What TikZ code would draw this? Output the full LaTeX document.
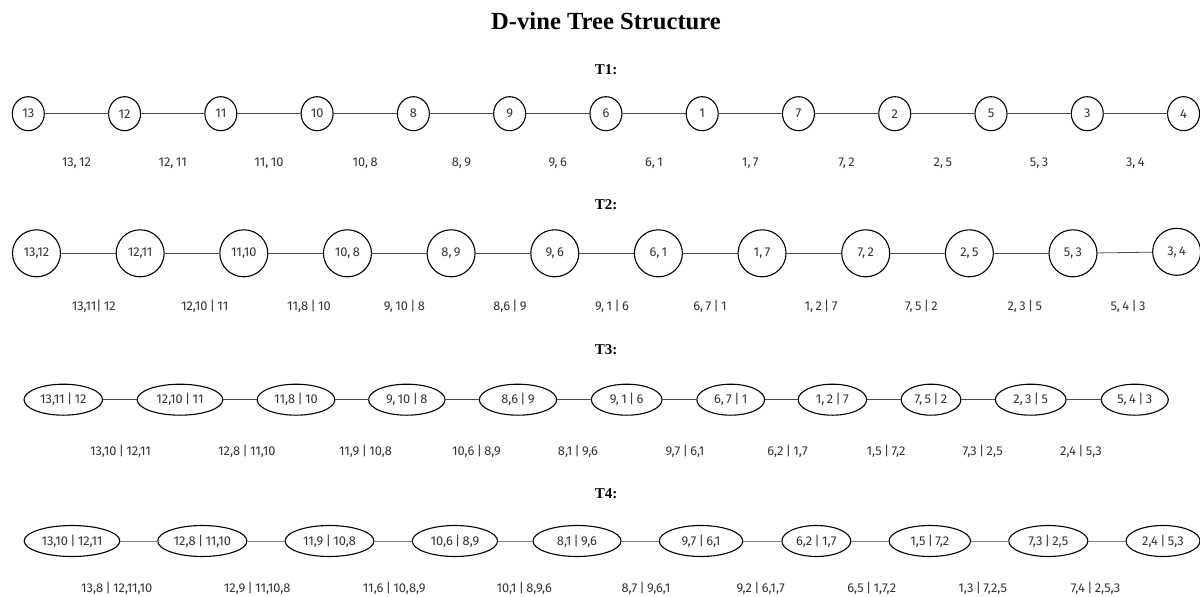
\documentclass[tikz,border=0pt]{standalone}
\usepackage{fontspec}
\setmainfont{Liberation Serif}
\newfontfamily\lblfont[WordSpace=0.7]{Fira Sans}
\usetikzlibrary{shapes.geometric}

\begin{document}
\begin{tikzpicture}[x=1pt,y=-1pt,
  every node/.style={inner sep=0pt, outer sep=0pt},
  txt/.style={font=\lblfont\fontsize{12.8}{14}\selectfont, text=black!80},
  vtx/.style={ellipse, draw=black, line width=1.1pt, fill=white, txt},
  tone/.style={vtx, minimum width=32pt, minimum height=34pt},
  ttwo/.style={vtx, minimum width=48pt, minimum height=47pt},
  tflat/.style={vtx, minimum height=31pt, minimum width=#1},
  edgelbl/.style={txt, anchor=base},
  link/.style={draw=black!70, line width=0.8pt},
  softlink/.style={draw=black!50, line width=0.9pt},
  rowtitle/.style={font=\bfseries\fontsize{15}{18}\selectfont}
]
\useasboundingbox (0,0) rectangle (1200,597);

% heading
\node[font=\bfseries\fontsize{24.6}{28}\selectfont] (title) at (606,21) {D-vine Tree Structure};

% ---------- tree 1 ----------
\node[rowtitle] (h1) at (606,70) {T1:};
\foreach \t [count=\i from 0] in {13,12,11,10,8,9,6,1,7,2,5,3,4}
  \node[tone] (a\i) at ({28.3+96.27*\i},113.7) {\t};
\foreach \i in {0,...,11}{
  \pgfmathtruncatemacro\j{\i+1}
  \draw[link] (a\i) -- (a\j);
}
\foreach \t [count=\i from 0] in {{13, 12},{12, 11},{11, 10},{10, 8},{8, 9},{9, 6},{6, 1},{1, 7},{7, 2},{2, 5},{5, 3},{3, 4}}
  \node[edgelbl] (la\i) at ({76.4+96.27*\i},166.3) {\t};

% ---------- tree 2 ----------
\node[rowtitle] (h2) at (606,205) {T2:};
\foreach \t [count=\i from 0] in {{13,12},{12,11},{11,10},{10, 8},{8, 9},{9, 6},{6, 1},{1, 7},{7, 2},{2, 5},{5, 3}}
  \node[ttwo] (b\i) at ({36.5+103.65*\i},253.3) {\t};
\node[ttwo] (b11) at ({36.5+103.65*11},251.8) {3, 4};
\foreach \i in {0,...,10}{
  \pgfmathtruncatemacro\j{\i+1}
  \draw[link] (b\i) -- (b\j);
}
\foreach \x/\t [count=\i from 0] in {93.8/{13,11| 12},204.7/{12,10 | 11},309/{11,8 | 10},404.5/{9, 10 | 8},510/{8,6 | 9},612/{9, 1 | 6},710/{6, 7 | 1},821/{1, 2 | 7},921.5/{7, 5 | 2},1024.8/{2, 3 | 5},1128/{5, 4 | 3}}
  \node[edgelbl] (lb\i) at (\x,310.5) {\t};

% ---------- tree 3 ----------
\node[rowtitle] (h3) at (606,350) {T3:};
\foreach \x/\w/\t [count=\i from 0] in {63.3/78.5/{13,11 | 12},180/85.7/{12,10 | 11},296/77.7/{11,8 | 10},406.8/76.5/{9, 10 | 8},518/77.3/{8,6 | 9},626.7/70.7/{9, 1 | 6},730.7/67.8/{6, 7 | 1},832.4/68.5/{1, 2 | 7},931/59.7/{7, 5 | 2},1030.7/70.8/{2, 3 | 5},1134.8/67/{5, 4 | 3}}
  \node[tflat=\w pt] (c\i) at (\x,399.7) {\t};
\foreach \i in {0,...,9}{
  \pgfmathtruncatemacro\j{\i+1}
  \draw[link] (c\i) -- (c\j);
}
\foreach \x/\t [count=\i from 0] in {120.5/{13,10 | 12,11},246.8/{12,8 | 11,10},365.5/{11,9 | 10,8},476.5/{10,6 | 8,9},578/{8,1 | 9,6},685/{9,7 | 6,1},787.5/{6,2 | 1,7},886/{1,5 | 7,2},982.7/{7,3 | 2,5},1081/{2,4 | 5,3}}
  \node[edgelbl] (lc\i) at (\x,455.8) {\t};

% ---------- tree 4 ----------
\node[rowtitle] (h4) at (606,494) {T4:};
\foreach \x/\w/\t [count=\i from 0] in {72/95.7/{13,10 | 12,11},202.3/89.2/{12,8 | 11,10},329.5/88.8/{11,9 | 10,8},454.9/85.3/{10,6 | 8,9},577/88/{8,1 | 9,6},701/83.4/{9,7 | 6,1},816.3/68.9/{6,2 | 1,7},929.8/81.5/{1,5 | 7,2},1048.3/79.2/{7,3 | 2,5},1163/74/{2,4 | 5,3}}
  \node[tflat=\w pt] (d\i) at (\x,541) {\t};
\foreach \i in {0,...,8}{
  \pgfmathtruncatemacro\j{\i+1}
  \draw[softlink] (d\i) -- (d\j);
}
\foreach \x/\t [count=\i from 0] in {116.7/{13,8 | 12,11,10},257.2/{12,9 | 11,10,8},394.2/{11,6 | 10,8,9},524.3/{10,1 | 8,9,6},645.9/{8,7 | 9,6,1},760.7/{9,2 | 6,1,7},871.7/{6,5 | 1,7,2},982.7/{1,3 | 7,2,5},1095.6/{7,4 | 2,5,3}}
  \node[edgelbl] (ld\i) at (\x,592.8) {\t};
\end{tikzpicture}
\end{document}
